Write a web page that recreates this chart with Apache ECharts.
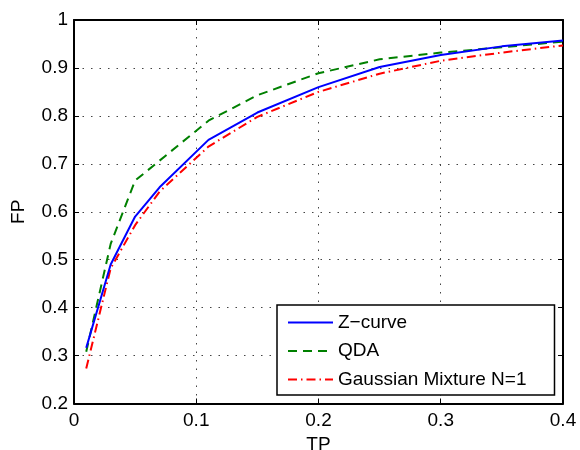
<!DOCTYPE html>
<html>
<head>
<meta charset="utf-8">
<script src="https://cdn.jsdelivr.net/npm/echarts@6/dist/echarts.min.js"></script>
<style>html,body{margin:0;padding:0;background:#fff;}#c{width:580px;height:450px;}</style>
</head>
<body>
<div id="c"></div>
<script>
var xTicks = [0, 0.1, 0.2, 0.3, 0.4];
var yTicks = [0.2, 0.3, 0.4, 0.5, 0.6, 0.7, 0.8, 0.9, 1];

var zX = [0.01, 0.03, 0.05, 0.07, 0.11, 0.15, 0.2, 0.25, 0.3, 0.35, 0.4];
var zY = [0.316, 0.49, 0.59, 0.651, 0.75, 0.807, 0.86, 0.902, 0.927, 0.945, 0.957];

var qX = [0.01, 0.03, 0.05, 0.11, 0.15, 0.2, 0.25, 0.3, 0.35, 0.4];
var qY = [0.308, 0.533, 0.665, 0.79, 0.843, 0.889, 0.918, 0.932, 0.943, 0.955];

var gX = [0.01, 0.03, 0.05, 0.07, 0.11, 0.15, 0.2, 0.25, 0.3, 0.35, 0.4];
var gY = [0.273, 0.482, 0.572, 0.642, 0.736, 0.798, 0.85, 0.888, 0.915, 0.932, 0.947];

var names = ['Z\u2212curve', 'QDA', 'Gaussian Mixture N=1'];

function pairs(xs, ys) { return xs.map(function (x, i) { return [x, ys[i]]; }); }

var FONT = 'Liberation Sans, Arial, Helvetica, sans-serif';
var chart = echarts.init(document.getElementById('c'), null, {renderer: 'canvas'});

function baseAxis(extra) {
  var o = {
    type: 'value',
    axisLine: {show: true, onZero: false, lineStyle: {color: '#000', width: 2}},
    axisTick: {show: true, inside: true, length: 5, lineStyle: {color: '#000', width: 1}},
    splitLine: {show: false}
  };
  for (var k in extra) o[k] = extra[k];
  return o;
}

var option = {
  backgroundColor: '#fff',
  animation: false,
  grid: {left: 74, right: 17, top: 20, bottom: 46.5, containLabel: false, outerBoundsMode: 'none'},
  xAxis: [
    baseAxis({
      position: 'bottom', min: xTicks[0], max: xTicks[xTicks.length - 1], interval: 0.1,
      name: 'TP', nameLocation: 'middle', nameGap: 30,
      nameTextStyle: {fontFamily: FONT, fontSize: 19, color: '#000'},
      axisLabel: {show: true, margin: 8, fontFamily: FONT, fontSize: 19, color: '#000'},
      splitLine: {show: true, lineStyle: {color: '#444', width: 1, type: [1.5, 7]}}
    }),
    baseAxis({
      position: 'top', min: xTicks[0], max: xTicks[xTicks.length - 1], interval: 0.1,
      axisLabel: {show: false}
    })
  ],
  yAxis: [
    baseAxis({
      position: 'left', min: yTicks[0], max: yTicks[yTicks.length - 1], interval: 0.1,
      name: 'FP', nameLocation: 'middle', nameGap: 46,
      nameTextStyle: {fontFamily: FONT, fontSize: 19, color: '#000'},
      axisLabel: {show: true, margin: 6, fontFamily: FONT, fontSize: 19, color: '#000'},
      splitLine: {show: true, lineStyle: {color: '#444', width: 1, type: [1.5, 7]}}
    }),
    baseAxis({
      position: 'right', min: yTicks[0], max: yTicks[yTicks.length - 1], interval: 0.1,
      axisLabel: {show: false}
    })
  ],
  legend: {
    show: true,
    orient: 'vertical',
    left: 277, top: 305,
    padding: [8, 28, 6, 10],
    itemWidth: 45, itemHeight: 14, itemGap: 9.5,
    backgroundColor: '#fff',
    borderColor: '#000', borderWidth: 1.5, borderRadius: 0,
    itemStyle: {opacity: 0},
    textStyle: {fontFamily: FONT, fontSize: 19, color: '#000', lineHeight: 19},
    data: names
  },
  series: [
    {
      name: names[0], type: 'line', data: pairs(zX, zY), symbol: 'none', showSymbol: false,
      lineStyle: {color: '#0000ff', width: 2, type: 'solid'}, itemStyle: {color: '#0000ff'}, z: 4
    },
    {
      name: names[1], type: 'line', data: pairs(qX, qY), symbol: 'none', showSymbol: false,
      lineStyle: {color: '#008000', width: 2, type: [9, 6]}, itemStyle: {color: '#008000'}, z: 3
    },
    {
      name: names[2], type: 'line', data: pairs(gX, gY), symbol: 'none', showSymbol: false,
      lineStyle: {color: '#ff0000', width: 2, type: [9, 4, 1.5, 4]}, itemStyle: {color: '#ff0000'}, z: 2
    }
  ]
};
chart.setOption(option);
</script>
</body>
</html>
